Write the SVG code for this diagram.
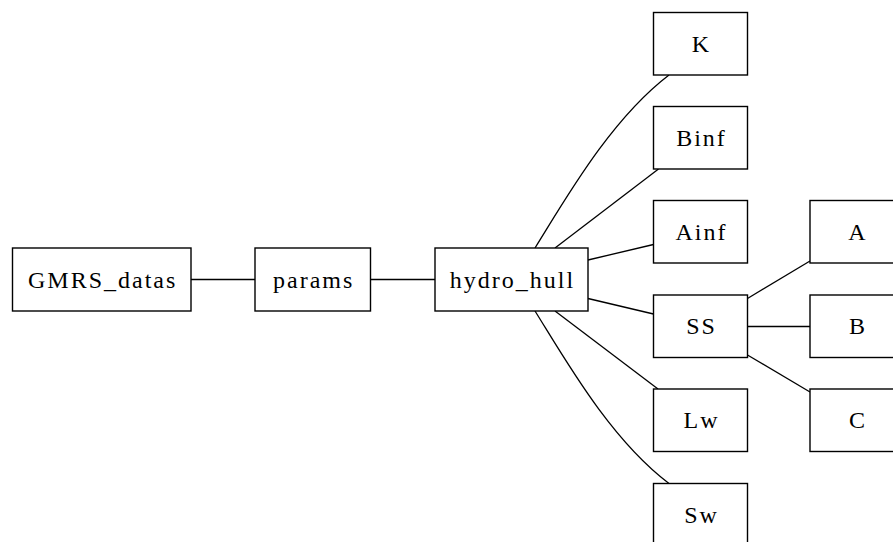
<svg xmlns="http://www.w3.org/2000/svg" width="893" height="542" viewBox="0 0 893 542">
<style>
.node rect{fill:#fff;stroke:#000;stroke-width:1.4}
.node text{font-family:"Liberation Serif","Times New Roman",serif;font-size:24px;letter-spacing:2px;text-anchor:middle;fill:#000}
#edges path{fill:none;stroke:#000;stroke-width:1.3}
</style>
<rect width="893" height="542" fill="#fff"/>
<g id="edges">
<path d="M191,279.5 L255,279.5"/>
<path d="M370.5,279.5 L435,279.5"/>
<path d="M535,248 C565,200 610,120 669,75"/>
<path d="M555,248 L658.5,169"/>
<path d="M588,260 L653.5,244.5"/>
<path d="M588,298.5 L653.5,314"/>
<path d="M555,311 L658,389"/>
<path d="M535,311 C565,359 610,439 669,483.5"/>
<path d="M747.5,298.5 L810,261"/>
<path d="M747.5,326.5 L810,326.5"/>
<path d="M747.5,355 L810,392"/>
</g>
<g id="GMRS_datas" class="node"><rect x="12.5" y="248" width="178.5" height="63"/><text x="102.7" y="287.5">GMRS_datas</text></g>
<g id="params" class="node"><rect x="255" y="248" width="115.5" height="63"/><text x="313.7" y="287.5">params</text></g>
<g id="hydro_hull" class="node"><rect x="435" y="248" width="153" height="63"/><text x="512.5" y="287.5">hydro_hull</text></g>
<g id="K" class="node"><rect x="653.5" y="12.5" width="94" height="62.5"/><text x="701.5" y="51.7">K</text></g>
<g id="Binf" class="node"><rect x="653.5" y="106.5" width="94" height="62.5"/><text x="701.5" y="145.7">Binf</text></g>
<g id="Ainf" class="node"><rect x="653.5" y="200.5" width="94" height="62.5"/><text x="701.5" y="239.7">Ainf</text></g>
<g id="SS" class="node"><rect x="653.5" y="295" width="94" height="62.5"/><text x="701.5" y="334.2">SS</text></g>
<g id="Lw" class="node"><rect x="653.5" y="389" width="94" height="62.5"/><text x="701.5" y="428.2">Lw</text></g>
<g id="Sw" class="node"><rect x="653.5" y="483.5" width="94" height="62.5"/><text x="701.5" y="522.7">Sw</text></g>
<g id="A" class="node"><rect x="810" y="200.5" width="94" height="62.5"/><text x="858" y="239.7">A</text></g>
<g id="B" class="node"><rect x="810" y="295" width="94" height="62.5"/><text x="858" y="334.2">B</text></g>
<g id="C" class="node"><rect x="810" y="389" width="94" height="62.5"/><text x="858" y="428.2">C</text></g>
</svg>
